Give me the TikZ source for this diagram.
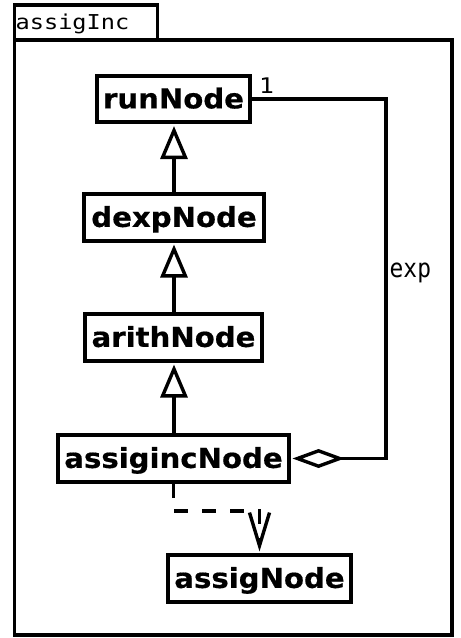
\documentclass[tikz,border=0pt]{standalone}
\usepackage{fontspec}
\usetikzlibrary{arrows.meta,calc}
\newfontfamily\nodefont[FakeStretch=1.06,FakeBold=0.5]{DejaVu Sans}
\newfontfamily\monof[FakeStretch=1.15]{DejaVu Sans Mono}
\newfontfamily\monoexp[FakeStretch=0.88]{DejaVu Sans Mono}
\tikzset{
  umlclass/.style={draw, line width=3.8pt, inner xsep=0pt, inner ysep=0pt,
    minimum height=46.5pt, text height=18.8pt, text depth=0pt,
    font=\nodefont\bfseries\fontsize{27.5}{31}\selectfont},
  inherit/.style={line width=3.4pt, -{Triangle[open, length=33pt, width=27pt]}},
  aggr/.style={line width=3.4pt, -{Diamond[open, length=52pt, width=19pt]}},
  depend/.style={line width=3.4pt, dash pattern=on 14pt off 14pt,
    -{Straight Barb[length=33pt, width=20pt, line width=3.4pt]}},
  frameline/.style={line width=3.6pt},
  monolabel/.style={inner sep=0pt, anchor=base west}
}
\begin{document}
\begin{tikzpicture}[x=1pt,y=-1pt]
\useasboundingbox (0,0) rectangle (461,638);
% package frame
\draw[frameline] (14.5,5) rectangle (157.5,40);
\draw[frameline] (14.5,40) rectangle (452,635);
\node[monolabel, font=\monof\fontsize{20.5}{24}\selectfont] (tabtext) at (15.5,29) {assigInc};
% classes
\node[umlclass, minimum width=153.5pt] (runNode) at (173.5,99) {runNode};
\node[umlclass, minimum width=179.5pt] (dexpNode) at (174,217.5) {dexpNode};
\node[umlclass, minimum width=177.5pt] (arithNode) at (173.5,337.5) {arithNode};
\node[umlclass, minimum width=230.5pt] (assigincNode) at (173.5,458.5) {assigincNode};
\node[umlclass, minimum width=183.5pt] (assigNode) at (259.5,578.5) {assigNode};
% generalizations
\draw[inherit] (dexpNode.north) -- ($(dexpNode.north |- runNode.south)+(0,1.9)$);
\draw[inherit] (arithNode.north -| dexpNode.north) -- ($(dexpNode.south)+(0,1.9)$);
\draw[inherit] (assigincNode.north -| dexpNode.north) -- ($(arithNode.south -| dexpNode.north)+(0,1.9)$);
% aggregation
\coordinate (aggA) at (386,99);
\coordinate (aggB) at (386,458.5);
\draw[aggr] (runNode.east) -- (aggA) -- (aggB) -- ($(assigincNode.east)+(1.9,0)$);
\node[monolabel, font=\monof\fontsize{21.5}{24}\selectfont] (mult) at (259,93) {1};
\node[monolabel, font=\monoexp\fontsize{26}{30}\selectfont] (explabel) at (389.5,277) {exp};
% dependency
\coordinate (depA) at (173.5,511);
\coordinate (depB) at (259.5,511);
\draw[depend] (assigincNode.south) -- (depA) -- (depB) -- ($(assigNode.north)+(0,-1.9)$);
\end{tikzpicture}
\end{document}
